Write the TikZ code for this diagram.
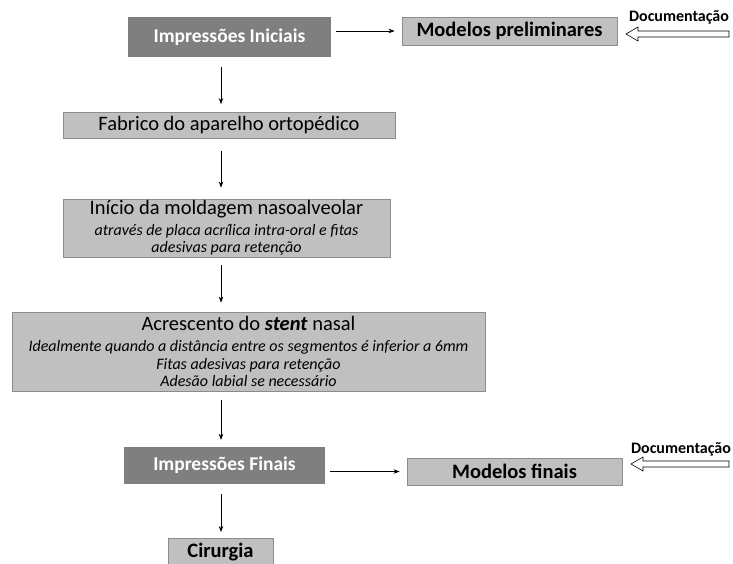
\documentclass[tikz,border=0pt]{standalone}
\usepackage{fontspec}
\setmainfont{Carlito}
\usetikzlibrary{arrows.meta,calc}
\definecolor{dark}{HTML}{7F7F7F}
\definecolor{light}{HTML}{C0C0C0}
\definecolor{edge}{HTML}{8C8C8C}
\begin{document}
\begin{tikzpicture}[x=1pt,y=-1pt,
  darkbox/.style={fill=dark,draw=none,text=white,font=\fontsize{19.5}{22}\selectfont\bfseries,inner sep=0pt},
  lightbox/.style={fill=light,draw=edge,line width=0.8pt,text=black,inner sep=0pt},
  head/.style={font=\fontsize{20.5}{23}\selectfont\bfseries},
  sub/.style={font=\fontsize{16}{17.5}\selectfont\itshape},
  conn/.style={-{Stealth[length=6pt,width=4.5pt]},line width=0.7pt},
  hollow/.style={draw=black,fill=white,line width=0.6pt},
  doc/.style={font=\fontsize{16}{18}\selectfont\bfseries}]
\useasboundingbox (0,0) rectangle (733,563);
\node[darkbox,minimum width=203pt,minimum height=40pt] (ii) at (229.5,37) {Impressões Iniciais};
\node[lightbox,head,minimum width=215pt,minimum height=28pt] (mp) at (509.5,31) {Modelos preliminares};
\node[lightbox,font=\fontsize{20.5}{23}\selectfont,minimum width=332pt,minimum height=26pt] (fab) at (229,125.5) {Fabrico do aparelho ortopédico};
\node[lightbox,sub,align=center,minimum width=327pt,minimum height=58pt] (ini) at (226.5,228)
  {{\fontsize{20.5}{23}\selectfont\upshape Início da moldagem nasoalveolar}\\[3pt]
   através de placa acrílica intra-oral e fitas\\
   adesivas para retenção};
\node[lightbox,sub,align=center,minimum width=473pt,minimum height=79pt] (acr) at (248.5,351.5)
  {{\fontsize{20.5}{23}\selectfont\upshape Acrescento do \textbf{\textit{stent}} nasal}\\[4pt]
   Idealmente quando a distância entre os segmentos é inferior a 6mm\\
   Fitas adesivas para retenção\\
   Adesão labial se necessário};
\node[darkbox,minimum width=201pt,minimum height=37pt] (if) at (224.5,465.5) {Impressões Finais};
\node[lightbox,head,minimum width=215pt,minimum height=27pt] (mf) at (514.5,471.5) {Modelos finais};
\node[lightbox,minimum width=105pt,minimum height=44pt,anchor=north] (cir) at (220.5,538) {};
\node[head] (cirt) at (220.5,552) {Cirurgia};
\coordinate (xl) at (221,0);
% connectors
\draw[conn,shorten <=5pt,shorten >=7pt] (ii.east |- mp.west) -- (mp.west);
\draw[conn,shorten <=5pt,shorten >=7pt] (if.east |- mf.west) -- (mf.west);
\draw[conn,shorten <=10pt,shorten >=8pt] (ii.south -| xl) -- (fab.north -| xl);
\draw[conn,shorten <=12pt,shorten >=11pt] (fab.south -| xl) -- (ini.north -| xl);
\draw[conn,shorten <=8pt,shorten >=9pt] (ini.south -| xl) -- (acr.north -| xl);
\draw[conn,shorten <=9pt,shorten >=7pt] (acr.south -| xl) -- (if.north -| xl);
\draw[conn,shorten <=10pt,shorten >=6pt] (if.south -| xl) -- (cir.north -| xl);
% documentation
\node[doc,anchor=south] (d1) at (679,28) {Documentação};
\node[doc,anchor=south] (d2) at (681,460) {Documentação};
\coordinate (t1) at (626,34);
\coordinate (t2) at (631,464);
\draw[hollow] (t1) -- ++(12,-7) -- ++(0,4) -- (729,31) -- (729,37) -- ($(t1)+(12,3)$) -- ++(0,4) -- cycle;
\draw[hollow] (t2) -- ++(12,-7) -- ++(0,4) -- (729,461) -- (729,467) -- ($(t2)+(12,3)$) -- ++(0,4) -- cycle;
\end{tikzpicture}
\end{document}
